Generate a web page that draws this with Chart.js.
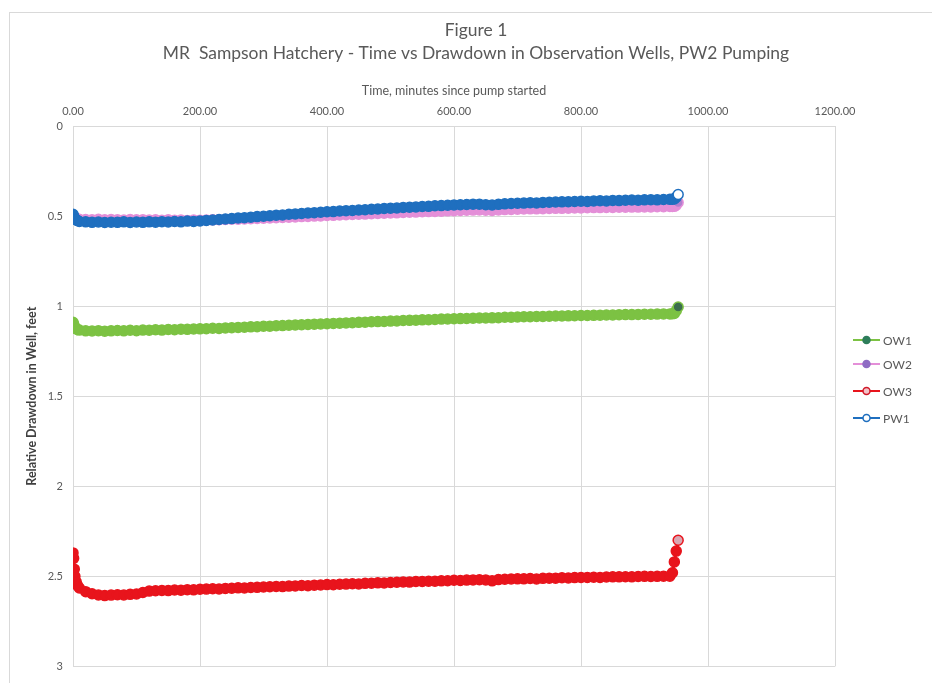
<!DOCTYPE html>
<html>
<head>
<meta charset="utf-8">
<script src="https://cdn.jsdelivr.net/npm/chart.js@4/dist/chart.umd.min.js"></script>
<style>
html,body{margin:0;padding:0;background:#fff;}
#wrap{position:relative;width:932px;height:683px;}
</style>
</head>
<body>
<div id="wrap"><canvas id="c" width="932" height="683"></canvas></div>
<script>
const titleLines = ['Figure 1', 'MR  Sampson Hatchery - Time vs Drawdown in Observation Wells, PW2 Pumping'];
const xTitle = 'Time, minutes since pump started';
const yTitle = 'Relative Drawdown in Well, feet';
const seriesNames = ['OW1', 'OW2', 'OW3', 'PW1'];

const time = [0,1,2,3,5,7,10,20,30,40,
 50,60,70,80,90,100,110,120,130,140,
 150,160,170,180,190,200,210,220,230,240,
 250,260,270,280,290,300,310,320,330,340,
 350,360,370,380,390,400,410,420,430,440,
 450,460,470,480,490,500,510,520,530,540,
 550,560,570,580,590,600,610,620,630,640,
 650,660,670,680,690,700,710,720,730,740,
 750,760,770,780,790,800,810,820,830,840,
 850,860,870,880,890,900,910,920,930,940,
 944,947,950,953];

const ow1 = [1.09,1.10,1.11,1.12,1.125,1.13,1.133,1.137,1.138,1.136,
 1.139,1.137,1.135,1.137,1.134,1.136,1.133,1.134,1.131,1.133,
 1.130,1.131,1.128,1.129,1.127,1.126,1.125,1.123,1.124,1.121,
 1.120,1.118,1.117,1.115,1.114,1.112,1.111,1.109,1.108,1.106,
 1.105,1.103,1.102,1.100,1.099,1.098,1.096,1.095,1.093,1.092,
 1.090,1.089,1.087,1.086,1.085,1.083,1.082,1.080,1.079,1.078,
 1.076,1.075,1.074,1.072,1.071,1.070,1.069,1.068,1.067,1.066,
 1.066,1.065,1.064,1.062,1.062,1.060,1.059,1.059,1.057,1.057,
 1.056,1.055,1.055,1.054,1.053,1.052,1.052,1.051,1.050,1.049,
 1.049,1.048,1.047,1.047,1.046,1.045,1.045,1.044,1.043,1.043,
 1.042,1.041,1.025,1.005];

const ow2 = [0.50,0.505,0.51,0.512,0.515,0.516,0.518,0.519,0.52,0.518,
 0.521,0.519,0.52,0.522,0.519,0.521,0.52,0.522,0.521,0.523,
 0.521,0.523,0.522,0.524,0.522,0.523,0.522,0.521,0.52,0.519,
 0.518,0.517,0.516,0.515,0.513,0.512,0.511,0.509,0.508,0.506,
 0.505,0.503,0.502,0.500,0.499,0.497,0.496,0.494,0.493,0.491,
 0.490,0.489,0.487,0.486,0.484,0.483,0.482,0.480,0.479,0.478,
 0.476,0.475,0.474,0.473,0.471,0.470,0.469,0.468,0.467,0.466,
 0.468,0.469,0.466,0.464,0.463,0.462,0.461,0.460,0.460,0.459,
 0.458,0.457,0.457,0.456,0.455,0.455,0.454,0.453,0.453,0.452,
 0.452,0.451,0.451,0.450,0.450,0.449,0.449,0.448,0.448,0.447,
 0.447,0.446,0.44,0.425];

const ow3 = [2.37,2.40,2.46,2.50,2.53,2.55,2.565,2.585,2.597,2.603,
 2.607,2.604,2.602,2.603,2.600,2.598,2.590,2.582,2.580,2.578,
 2.579,2.576,2.577,2.574,2.575,2.572,2.571,2.569,2.570,2.567,
 2.566,2.564,2.565,2.562,2.561,2.559,2.558,2.556,2.557,2.554,
 2.553,2.551,2.552,2.549,2.548,2.546,2.547,2.544,2.543,2.541,
 2.542,2.539,2.538,2.536,2.537,2.534,2.533,2.531,2.532,2.529,
 2.528,2.527,2.527,2.525,2.524,2.522,2.523,2.521,2.520,2.519,
 2.520,2.525,2.518,2.516,2.515,2.514,2.514,2.512,2.515,2.511,
 2.510,2.510,2.508,2.509,2.507,2.506,2.506,2.505,2.506,2.504,
 2.503,2.503,2.502,2.503,2.501,2.500,2.501,2.500,2.499,2.499,
 2.48,2.42,2.36,2.30];

const pw1 = [0.49,0.50,0.51,0.515,0.52,0.525,0.53,0.532,0.535,0.533,
 0.536,0.534,0.535,0.532,0.536,0.533,0.535,0.532,0.534,0.531,
 0.533,0.530,0.532,0.528,0.530,0.527,0.524,0.522,0.519,0.516,
 0.514,0.511,0.509,0.506,0.503,0.501,0.498,0.495,0.494,0.490,
 0.488,0.486,0.483,0.481,0.479,0.476,0.475,0.472,0.470,0.469,
 0.466,0.465,0.462,0.461,0.458,0.456,0.455,0.452,0.451,0.449,
 0.447,0.446,0.443,0.442,0.440,0.438,0.437,0.436,0.434,0.434,
 0.437,0.438,0.435,0.432,0.430,0.429,0.428,0.426,0.427,0.424,
 0.423,0.422,0.421,0.420,0.419,0.418,0.419,0.416,0.415,0.416,
 0.413,0.414,0.412,0.411,0.412,0.410,0.409,0.410,0.408,0.407,
 0.406,0.405,0.395,0.38];

const FONT = 'Lato, "Open Sans", sans-serif';
const styles = [
  {line:'#7cc243', point:'#7cc243', legendDot:'#2e7d5b', legendFill:'#2e7d5b', lastFill:'#3c6e4e'},
  {line:'#e48fd8', point:'#e48fd8', legendDot:'#8f6cc4', legendFill:'#8f6cc4', lastFill:'#b07fcf'},
  {line:'#e8141c', point:'#e8141c', legendDot:'#d01a2a', legendFill:'#f3c3c8', lastFill:'#d9a7b3'},
  {line:'#1f6fbf', point:'#1f6fbf', legendDot:'#1f6fbf', legendFill:'#ffffff', lastFill:'#ffffff'}
];
const values = [ow1, ow2, ow3, pw1];
const orders = [3, 2, 1, 0];

const datasets = values.map((vals, i) => ({
  label: seriesNames[i],
  data: time.map((t, k) => ({x: t, y: vals[k]})),
  showLine: true,
  borderColor: styles[i].line,
  borderWidth: 3,
  pointRadius: 5,
  pointBorderWidth: 1.5,
  pointBorderColor: styles[i].point,
  pointBackgroundColor: (ctx) => ctx.dataIndex === time.length - 1 ? styles[i].lastFill : styles[i].point,
  order: orders[i]
}));

const framePlugin = {
  id: 'frame',
  beforeDraw(chart) {
    const ctx = chart.ctx;
    ctx.save();
    ctx.fillStyle = '#ffffff';
    ctx.fillRect(0, 0, chart.width, chart.height);
    ctx.strokeStyle = '#d9d9d9';
    ctx.lineWidth = 1;
    ctx.strokeRect(9.5, 12.5, 960, 700);
    ctx.restore();
  }
};

const titlePlugin = {
  id: 'customTitle',
  afterDraw(chart) {
    const ctx = chart.ctx;
    ctx.save();
    ctx.fillStyle = '#595959';
    ctx.textAlign = 'center';
    ctx.textBaseline = 'middle';
    ctx.font = '20px ' + FONT;
    const w = ctx.measureText(titleLines[1]).width;
    const size = 20 * 627 / w;
    ctx.font = size.toFixed(2) + 'px ' + FONT;
    ctx.fillText(titleLines[0], 476, 30);
    ctx.fillText(titleLines[1], 476, 53);
    ctx.restore();
  }
};

const legendPlugin = {
  id: 'customLegend',
  afterDraw(chart) {
    const ctx = chart.ctx;
    const ys = [340, 364, 391, 418];
    ctx.save();
    seriesNames.forEach((name, i) => {
      const y = ys[i];
      const st = styles[i];
      ctx.strokeStyle = st.line;
      ctx.lineWidth = 2;
      ctx.beginPath();
      ctx.moveTo(853, y);
      ctx.lineTo(880, y);
      ctx.stroke();
      ctx.beginPath();
      ctx.arc(866.5, y, 3.5, 0, Math.PI * 2);
      ctx.fillStyle = st.legendFill;
      ctx.fill();
      ctx.lineWidth = 1.5;
      ctx.strokeStyle = st.legendDot;
      ctx.stroke();
      ctx.fillStyle = '#595959';
      ctx.font = '12px ' + FONT;
      ctx.textBaseline = 'middle';
      ctx.textAlign = 'left';
      ctx.fillText(name, 883, y + 1);
    });
    ctx.restore();
  }
};

new Chart(document.getElementById('c'), {
  type: 'scatter',
  data: { datasets },
  options: {
    responsive: false,
    animation: false,
    devicePixelRatio: 1,
    layout: { padding: { left: 10, top: 64, right: 97, bottom: 12 } },
    plugins: {
      legend: { display: false },
      tooltip: { enabled: false },
      title: { display: false }
    },
    scales: {
      x: {
        type: 'linear',
        position: 'top',
        min: 0,
        max: 1200,
        ticks: {
          stepSize: 200,
          padding: 8,
          color: '#595959',
          font: { family: FONT, size: 11 },
          callback: (v) => Number(v).toFixed(2),
          maxRotation: 0
        },
        grid: { color: '#d9d9d9', drawTicks: false },
        border: { display: false },
        title: {
          display: true,
          text: xTitle,
          color: '#595959',
          font: { family: FONT, size: 12.5 },
          padding: { top: 19, bottom: 0 }
        },
        afterFit(scale) { scale.height = 62; }
      },
      y: {
        type: 'linear',
        reverse: true,
        min: 0,
        max: 3,
        ticks: {
          stepSize: 0.5,
          padding: 10,
          color: '#595959',
          font: { family: FONT, size: 11 },
          callback: (v) => String(v)
        },
        grid: { color: '#d9d9d9', drawTicks: false },
        border: { display: false },
        title: {
          display: true,
          text: yTitle,
          color: '#404040',
          font: { family: FONT, size: 12.5, weight: 'bold' },
          padding: { top: 14, bottom: 0 }
        },
        afterFit(scale) { scale.width = 63; }
      }
    }
  },
  plugins: [framePlugin, titlePlugin, legendPlugin]
});
</script>
</body>
</html>
